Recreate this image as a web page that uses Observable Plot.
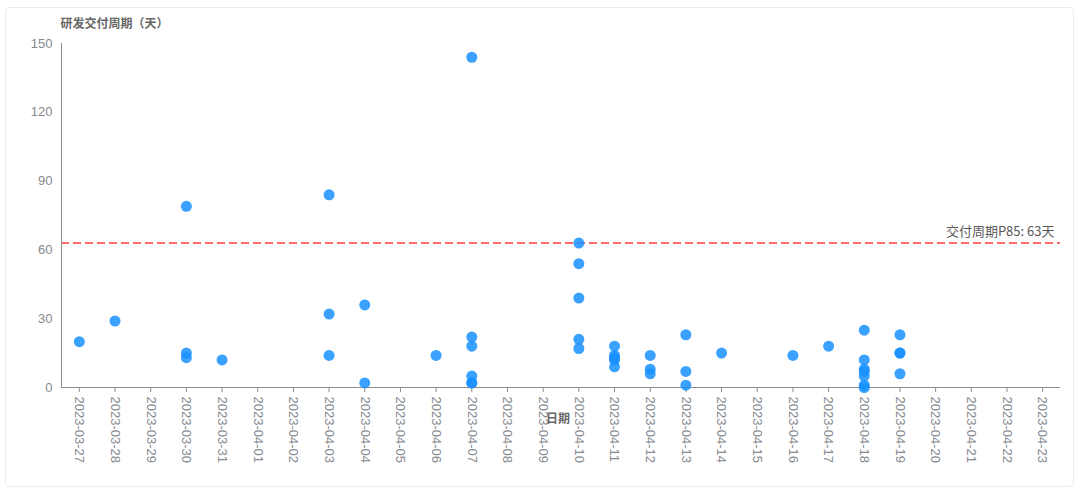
<!DOCTYPE html>
<html>
<head>
<meta charset="utf-8">
<script src="https://cdn.jsdelivr.net/npm/d3@7"></script>
<script src="https://cdn.jsdelivr.net/npm/@observablehq/plot@0.6"></script>
<style>
  html, body { margin: 0; padding: 0; background: #fff; }
  body { width: 1080px; height: 494px; position: relative; overflow: hidden;
         font-family: "Noto Sans CJK SC", "Noto Sans", sans-serif; }
  #card { position: absolute; left: 5px; top: 7px; width: 1069px; height: 480px;
          border: 1px solid #ebebeb; border-radius: 4px; box-sizing: border-box; }
  #chart { position: absolute; left: 0; top: 0; }
</style>
</head>
<body>
<div id="card"></div>
<div id="chart"></div>
<script>
const categories = ["2023-03-27","2023-03-28","2023-03-29","2023-03-30","2023-03-31","2023-04-01","2023-04-02",
  "2023-04-03","2023-04-04","2023-04-05","2023-04-06","2023-04-07","2023-04-08","2023-04-09","2023-04-10",
  "2023-04-11","2023-04-12","2023-04-13","2023-04-14","2023-04-15","2023-04-16","2023-04-17","2023-04-18",
  "2023-04-19","2023-04-20","2023-04-21","2023-04-22","2023-04-23"];

const pointDates = [
  "2023-03-27",
  "2023-03-28",
  "2023-03-30","2023-03-30","2023-03-30",
  "2023-03-31",
  "2023-04-03","2023-04-03","2023-04-03",
  "2023-04-04","2023-04-04",
  "2023-04-06",
  "2023-04-07","2023-04-07","2023-04-07","2023-04-07","2023-04-07","2023-04-07",
  "2023-04-10","2023-04-10","2023-04-10","2023-04-10","2023-04-10",
  "2023-04-11","2023-04-11","2023-04-11","2023-04-11","2023-04-11",
  "2023-04-12","2023-04-12","2023-04-12",
  "2023-04-13","2023-04-13","2023-04-13",
  "2023-04-14",
  "2023-04-16",
  "2023-04-17",
  "2023-04-18","2023-04-18","2023-04-18","2023-04-18","2023-04-18","2023-04-18","2023-04-18",
  "2023-04-19","2023-04-19","2023-04-19","2023-04-19"
];
const pointDays = [
  20,
  29,
  79, 15, 13,
  12,
  84, 32, 14,
  36, 2,
  14,
  144, 22, 18, 5, 2, 2,
  63, 54, 39, 21, 17,
  18, 14, 13, 12, 9,
  14, 8, 6,
  23, 7, 1,
  15,
  14,
  18,
  25, 12, 8, 7, 5, 1, 0,
  23, 15, 15, 6
];

const p85 = 63;
const p85Label = "交付周期P85: 63天";
const yTicks = [0, 30, 60, 90, 120, 150];
const yTitle = "研发交付周期（天）";
const xTitle = "日期";

const points = pointDates.map((d, i) => ({date: d, days: pointDays[i]}));

const axisColor = "#8c8c8c";
const labelColor = "#86898f";

const chart = Plot.plot({
  width: 1080,
  height: 494,
  marginLeft: 61,
  marginRight: 20,
  marginTop: 43,
  marginBottom: 107,
  style: {fontSize: "13px", fontFamily: "'Liberation Sans', 'Noto Sans CJK SC', sans-serif", background: "transparent", overflow: "visible"},
  x: {domain: categories, type: "band", padding: 0, round: false},
  y: {domain: [0, 150]},
  marks: [
    Plot.ruleY([p85], {stroke: "#ff6b6b", strokeWidth: 2, strokeDasharray: "8,4"}),
    Plot.ruleY([0], {stroke: axisColor, strokeWidth: 1}),
    Plot.frame({anchor: "left", stroke: axisColor, strokeWidth: 1}),
    Plot.axisY({ticks: yTicks, tickSize: 0, tickPadding: 9, label: null, fill: labelColor}),
    Plot.axisX({tickRotate: 90, tickSize: 5, tickPadding: 4, label: null, fill: labelColor, stroke: axisColor}),
    Plot.dot(points, {x: "date", y: "days", r: 5.5, fill: "#1890ff", fillOpacity: 0.85, stroke: "none"}),
    Plot.text([p85Label], {frameAnchor: "top-right", y: [p85], text: d => d, textAnchor: "end", dx: -6, dy: -16, fill: "#595959", fontSize: 13, fontFamily: "'Noto Sans CJK SC', sans-serif"}),
    Plot.text([yTitle], {frameAnchor: "top-left", text: d => d, textAnchor: "start", dx: -1, dy: -24, fill: "#666", fontWeight: "bold", fontSize: 12, fontFamily: "'Noto Sans CJK SC', sans-serif"}),
    Plot.text([xTitle], {frameAnchor: "bottom", text: d => d, dx: -3, dy: 35, fill: "#666", fontWeight: "bold", fontSize: 12, fontFamily: "'Noto Sans CJK SC', sans-serif"})
  ]
});
document.getElementById("chart").appendChild(chart);
</script>
</body>
</html>
